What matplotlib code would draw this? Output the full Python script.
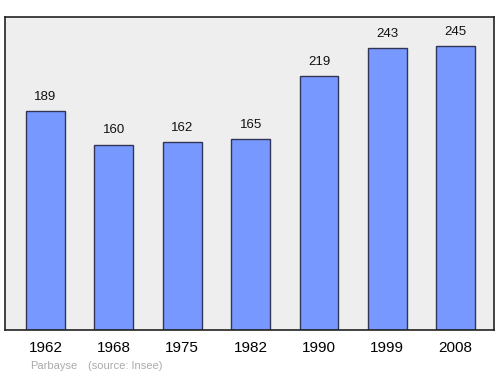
import matplotlib

matplotlib.use("Agg")
import matplotlib.pyplot as plt

years = ["1962", "1968", "1975", "1982", "1990", "1999", "2008"]
population = [189, 160, 162, 165, 219, 243, 245]
commune = "Parbayse"
source = "(source: Insee)"

plt.rcParams["font.family"] = ["Liberation Sans", "DejaVu Sans"]

fig = plt.figure(figsize=(5.0, 3.74), dpi=100)
ax = fig.add_axes([0.01, 0.1176, 0.978, 0.837])
ax.set_facecolor("#eeeeee")

x = list(range(len(years)))
ax.bar(x, population, width=0.57, color="#7799ff", edgecolor="#333355", linewidth=1.0, zorder=2)
for xi, v in zip(x, population):
    ax.text(xi, v + 7, str(v), ha="center", va="bottom", fontsize=9.5, color="#111111")

ax.set_xlim(-0.593, 6.56)
ax.set_ylim(0, 270)
ax.set_yticks([])
ax.set_xticks(x)
ax.set_xticklabels(years, fontsize=11)
ax.tick_params(axis="x", length=0, pad=8)
for s in ax.spines.values():
    s.set_color("#222222")
    s.set_linewidth(1.2)

fig.text(0.06, 0.014, commune, fontsize=8, color="#aaaaaa", va="baseline")
fig.text(0.175, 0.014, source, fontsize=8, color="#aaaaaa", va="baseline")

fig.savefig("out.png", dpi=100)
